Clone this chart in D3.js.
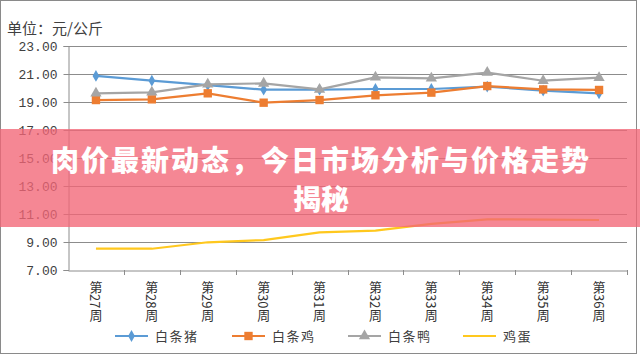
<!DOCTYPE html>
<html><head><meta charset="utf-8">
<script src="https://cdn.jsdelivr.net/npm/d3@7/dist/d3.min.js"></script>
<style>html,body{margin:0;padding:0;background:#fff;}svg{display:block;}</style>
</head><body>
<svg id="c" width="640" height="356"></svg>
<script>
const weeks = ["第27周","第28周","第29周","第30周","第31周","第32周","第33周","第34周","第35周","第36周"];
const pork = [20.86,20.52,20.21,19.88,19.88,19.93,19.93,20.10,19.81,19.62];
const chicken = [19.14,19.19,19.62,18.95,19.14,19.48,19.67,20.14,19.90,19.86];
const duck = [19.62,19.69,20.26,20.33,19.90,20.76,20.69,21.10,20.52,20.74];
const eggs = [8.52,8.52,8.98,9.14,9.69,9.81,10.29,10.62,10.60,10.57];
const seriesNames = ["白条猪","白条鸡","白条鸭","鸡蛋"];
const yTicks = [7,9,11,13,15,17,19,21,23];
const unitLabel = "单位：元/公斤";
const bannerLines = ["肉价最新动态，今日市场分析与价格走势","揭秘"];

const svg = d3.select("#c");
const L = 68, R = 627, T = 46, B = 270;
const x = d3.scaleBand().domain(weeks).range([L, R]);
const y = d3.scaleLinear().domain([7, 23]).range([B, T]);
const cjk = "'Noto Sans CJK SC','Noto Sans',sans-serif";

// outer border
svg.append("rect").attr("x",0.5).attr("y",0.5).attr("width",636).attr("height",353)
  .attr("fill","#fff").attr("stroke","#8a8a8a");

svg.append("text").attr("x",7).attr("y",34).text(unitLabel)
  .attr("font-family",cjk).attr("font-size",15).attr("fill","#404040");

// gridlines
svg.append("g").selectAll("line").data(yTicks.filter(d=>d>7)).join("line")
  .attr("x1",L).attr("x2",R).attr("y1",d=>Math.round(y(d))+0.5).attr("y2",d=>Math.round(y(d))+0.5)
  .attr("stroke","#8c8c8c").attr("stroke-width",1);

// y axis
const yAxis = svg.append("g").attr("transform",`translate(${L+0.5},0)`)
  .call(d3.axisLeft(y).tickValues(yTicks).tickFormat(d3.format(".2f")).tickSize(5).tickPadding(6));
yAxis.select(".domain").attr("stroke","#8c8c8c");
yAxis.selectAll(".tick line").attr("stroke","#8c8c8c");
yAxis.selectAll("text").attr("font-family","'Liberation Mono',monospace").attr("font-size",13).attr("fill","#404040");

// x axis
const xAxis = svg.append("g").attr("transform",`translate(0,${B+0.5})`)
  .call(d3.axisBottom(x).tickSize(0).tickFormat(""));
xAxis.select(".domain").attr("stroke","#8c8c8c");
svg.append("g").selectAll("line").data(weeks).join("line")
  .attr("x1",d=>Math.round(x(d)+x.bandwidth())+0.5).attr("x2",d=>Math.round(x(d)+x.bandwidth())+0.5)
  .attr("y1",B).attr("y2",B+5).attr("stroke","#8c8c8c");
svg.append("g").selectAll("text").data(weeks).join("text")
  .attr("x",d=>x(d)+x.bandwidth()/2).attr("y",281)
  .style("writing-mode","vertical-rl").style("text-orientation","mixed")
  .attr("font-family",cjk).attr("font-size",13).attr("fill","#333")
  .text(d=>d);

const cx = d => x(d) + x.bandwidth()/2;
const series = [
  {name:seriesNames[0], vals:pork, color:"#5b9bd5", sym:d3.symbolDiamond, size:40},
  {name:seriesNames[1], vals:chicken, color:"#ed7d31", sym:d3.symbolSquare, size:70},
  {name:seriesNames[2], vals:duck, color:"#a5a5a5", sym:d3.symbolTriangle, size:55},
  {name:seriesNames[3], vals:eggs, color:"#ffc81e", sym:null}
];
const line = d3.line().x((d,i)=>cx(weeks[i])).y(d=>y(d));
series.forEach(s=>{
  svg.append("path").datum(s.vals).attr("d",line).attr("fill","none")
    .attr("stroke",s.color).attr("stroke-width",2.2).attr("stroke-linejoin","round");
  if (s.sym) {
    svg.append("g").selectAll("path").data(s.vals).join("path")
      .attr("transform",(d,i)=>`translate(${cx(weeks[i])},${y(d)})`)
      .attr("d",d3.symbol(s.sym,s.size)).attr("fill",s.color);
  }
});

// legend
const legX = [115,232,348,463];
const lg = svg.append("g").attr("transform","translate(0,336)");
series.forEach((s,i)=>{
  const g = lg.append("g").attr("transform",`translate(${legX[i]},0)`);
  g.append("line").attr("x1",0).attr("x2",33).attr("y1",0).attr("y2",0).attr("stroke",s.color).attr("stroke-width",2.2);
  if (s.sym) g.append("path").attr("transform","translate(16.5,0)").attr("d",d3.symbol(s.sym,s.size)).attr("fill",s.color);
  g.append("text").attr("x",40).attr("y",0).attr("dy","0.36em").text(s.name)
    .attr("font-family",cjk).attr("font-size",13).attr("letter-spacing",1.5).attr("fill","#404040");
});

// banner overlay
svg.append("rect").attr("x",0).attr("y",129).attr("width",640).attr("height",98)
  .attr("fill","rgb(242,101,118)").attr("fill-opacity",0.78);
svg.append("g").selectAll("text").data(bannerLines).join("text")
  .attr("x",321).attr("y",(d,i)=>159+i*39).attr("dominant-baseline","central")
  .attr("text-anchor","middle").attr("font-family",cjk).attr("font-weight",900)
  .attr("font-size",28).attr("letter-spacing",(d,i)=>i===0?2:0).attr("fill","#fff")
  .text(d=>d);
</script>
</body></html>
